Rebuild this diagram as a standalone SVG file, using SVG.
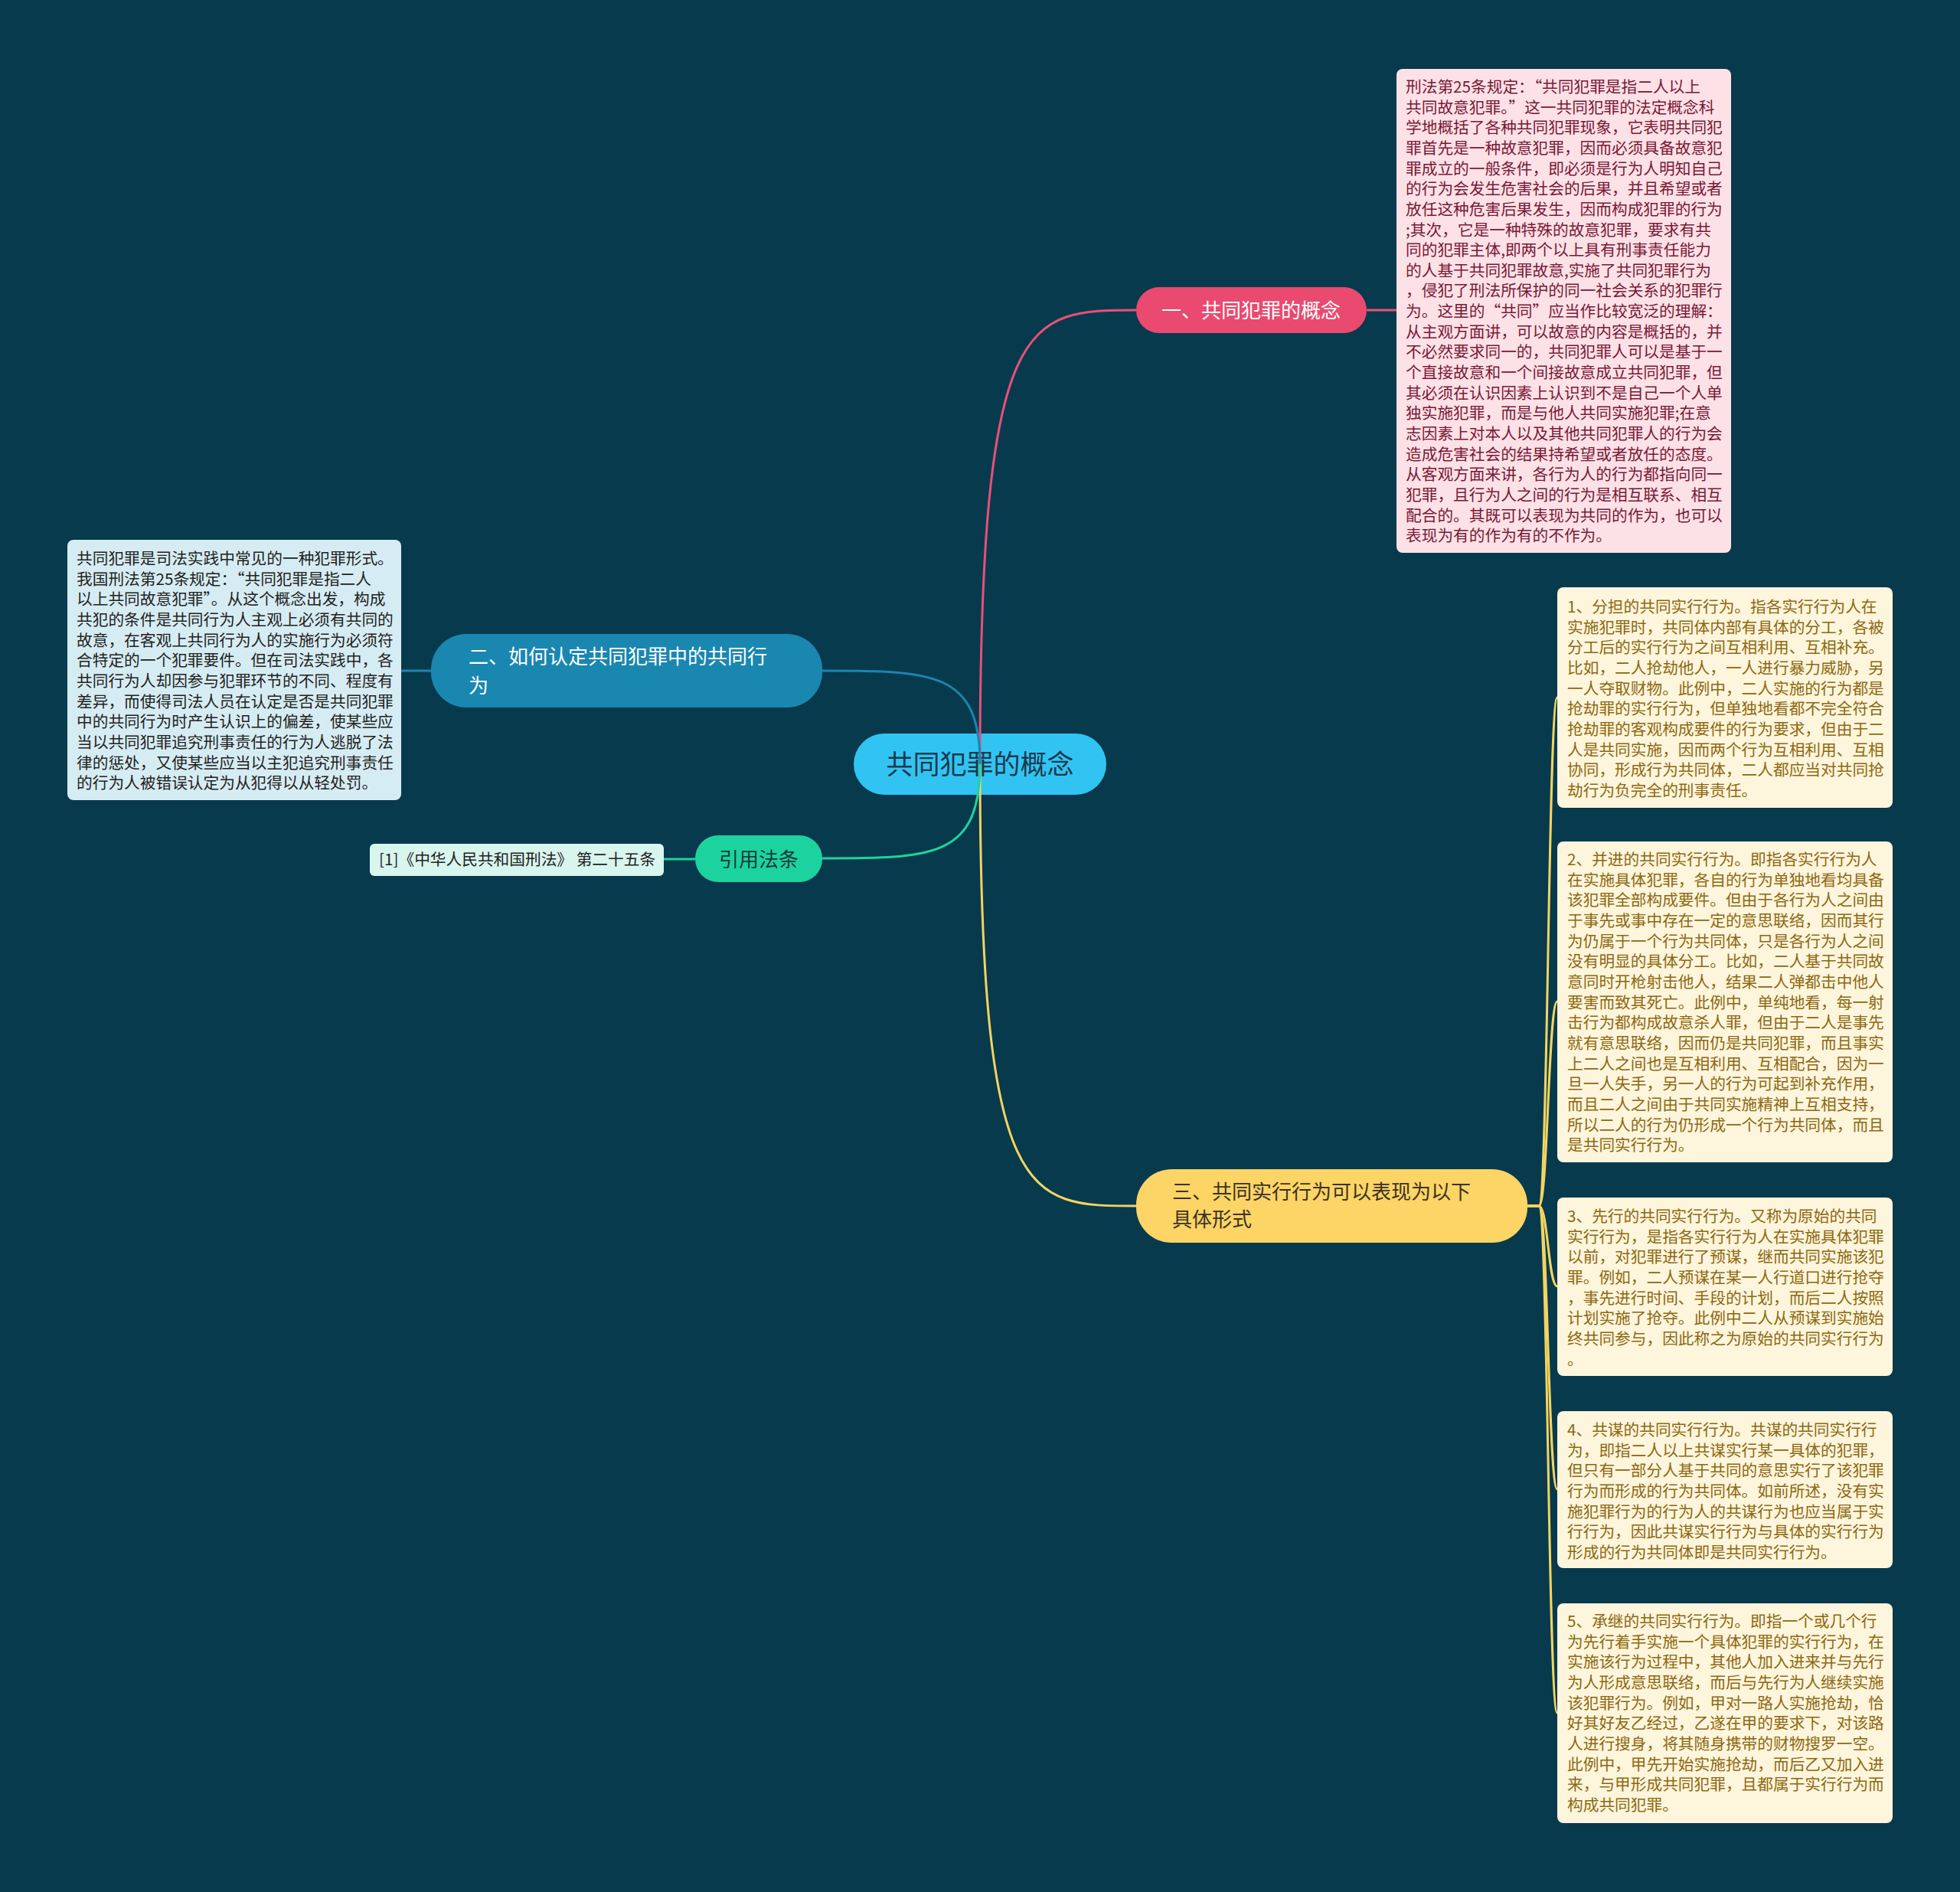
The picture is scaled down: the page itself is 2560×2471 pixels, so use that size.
<svg xmlns="http://www.w3.org/2000/svg" width="2560" height="2471" viewBox="0 0 2560 2471">
<style>
text{font-family:"Noto Sans CJK SC","Noto Sans",sans-serif;}
.conn{fill:none;stroke-width:3;}
.box{font-size:20.7px;}
.pink text{fill:#7a1834;}
.yel text{fill:#8d6810;}
.br{font-size:26px;}
</style>
<rect width="2560" height="2471" fill="#083a4d"/>
<g id="center">
<rect x="1115" y="958" width="330" height="80" rx="40" fill="#31c4f3"/>
<text x="1280" y="1011" font-size="35" text-anchor="middle" fill="#1b3a4c">共同犯罪的概念</text>
</g>
<g id="connectors">
<path class="conn" stroke="#e8507a" d="M1280 998 C1280 405 1341 405 1484 405"/>
<path class="conn" stroke="#f3d460" d="M1280 998 C1280 1575 1341 1575 1484 1575"/>
<path class="conn" stroke="#1a86b0" d="M1280 998 C1280 876 1218 876 1074 876"/>
<path class="conn" stroke="#1dd3a0" d="M1280 998 C1280 1121 1218 1121 1074 1121"/>
<path class="conn" stroke="#e8507a" d="M1785 405 H1824"/>
<path class="conn" stroke="#1a86b0" d="M563 876 H524"/>
<path class="conn" stroke="#1dd3a0" d="M908 1122 H867"/>
<path class="conn" stroke="#f3d460" d="M1995 1575 H2010 C2022 1575 2022 911 2034 911"/>
<path class="conn" stroke="#f3d460" d="M1995 1575 H2010 C2022 1575 2022 1308 2034 1308"/>
<path class="conn" stroke="#f3d460" d="M1995 1575 H2010 C2022 1575 2022 1680 2034 1680"/>
<path class="conn" stroke="#f3d460" d="M1995 1575 H2010 C2022 1575 2022 1945 2034 1945"/>
<path class="conn" stroke="#f3d460" d="M1995 1575 H2010 C2022 1575 2022 2237 2034 2237"/>
</g>
<g id="branch1">
<rect x="1484" y="375" width="301" height="60" rx="30" fill="#ea4a6f"/>
<text class="br" x="1634" y="415" text-anchor="middle" fill="#ffffff">一、共同犯罪的概念</text>
</g>
<g id="branch2">
<rect x="563" y="828" width="511" height="96" rx="46" fill="#1a87b1"/>
<text class="br" fill="#ffffff"><tspan x="612" y="867">二、如何认定共同犯罪中的共同行</tspan><tspan x="612" y="905">为</tspan></text>
</g>
<g id="branch_cite">
<rect x="908" y="1091" width="166" height="61" rx="30" fill="#1cd39f"/>
<text class="br" x="991" y="1132" text-anchor="middle" fill="#143a3a">引用法条</text>
</g>
<g id="branch3">
<rect x="1484" y="1527" width="511" height="96" rx="46" fill="#fdd466"/>
<text class="br" fill="#3a3320"><tspan x="1531" y="1566">三、共同实行行为可以表现为以下</tspan><tspan x="1531" y="1602">具体形式</tspan></text>
</g>
<g id="note1" class="pink">
<rect x="1824" y="90" width="437" height="632" rx="8" fill="#fce1e7"/>
<text class="box" x="1836" y="121">
<tspan x="1836" dy="0">刑法第25条规定：“共同犯罪是指二人以上</tspan>
<tspan x="1836" dy="26.65">共同故意犯罪。”这一共同犯罪的法定概念科</tspan>
<tspan x="1836" dy="26.65">学地概括了各种共同犯罪现象，它表明共同犯</tspan>
<tspan x="1836" dy="26.65">罪首先是一种故意犯罪，因而必须具备故意犯</tspan>
<tspan x="1836" dy="26.65">罪成立的一般条件，即必须是行为人明知自己</tspan>
<tspan x="1836" dy="26.65">的行为会发生危害社会的后果，并且希望或者</tspan>
<tspan x="1836" dy="26.65">放任这种危害后果发生，因而构成犯罪的行为</tspan>
<tspan x="1836" dy="26.65">;其次，它是一种特殊的故意犯罪，要求有共</tspan>
<tspan x="1836" dy="26.65">同的犯罪主体,即两个以上具有刑事责任能力</tspan>
<tspan x="1836" dy="26.65">的人基于共同犯罪故意,实施了共同犯罪行为</tspan>
<tspan x="1836" dy="26.65">，侵犯了刑法所保护的同一社会关系的犯罪行</tspan>
<tspan x="1836" dy="26.65">为。这里的“共同”应当作比较宽泛的理解：</tspan>
<tspan x="1836" dy="26.65">从主观方面讲，可以故意的内容是概括的，并</tspan>
<tspan x="1836" dy="26.65">不必然要求同一的，共同犯罪人可以是基于一</tspan>
<tspan x="1836" dy="26.65">个直接故意和一个间接故意成立共同犯罪，但</tspan>
<tspan x="1836" dy="26.65">其必须在认识因素上认识到不是自己一个人单</tspan>
<tspan x="1836" dy="26.65">独实施犯罪，而是与他人共同实施犯罪;在意</tspan>
<tspan x="1836" dy="26.65">志因素上对本人以及其他共同犯罪人的行为会</tspan>
<tspan x="1836" dy="26.65">造成危害社会的结果持希望或者放任的态度。</tspan>
<tspan x="1836" dy="26.65">从客观方面来讲，各行为人的行为都指向同一</tspan>
<tspan x="1836" dy="26.65">犯罪，且行为人之间的行为是相互联系、相互</tspan>
<tspan x="1836" dy="26.65">配合的。其既可以表现为共同的作为，也可以</tspan>
<tspan x="1836" dy="26.65">表现为有的作为有的不作为。</tspan>
</text>
</g>
<g id="note2">
<rect x="88" y="705" width="436" height="340" rx="8" fill="#d6ecf3"/>
<text class="box" x="100" y="737" fill="#222222">
<tspan x="100" dy="0">共同犯罪是司法实践中常见的一种犯罪形式。</tspan>
<tspan x="100" dy="26.67">我国刑法第25条规定：“共同犯罪是指二人</tspan>
<tspan x="100" dy="26.67">以上共同故意犯罪”。从这个概念出发，构成</tspan>
<tspan x="100" dy="26.67">共犯的条件是共同行为人主观上必须有共同的</tspan>
<tspan x="100" dy="26.67">故意，在客观上共同行为人的实施行为必须符</tspan>
<tspan x="100" dy="26.67">合特定的一个犯罪要件。但在司法实践中，各</tspan>
<tspan x="100" dy="26.67">共同行为人却因参与犯罪环节的不同、程度有</tspan>
<tspan x="100" dy="26.67">差异，而使得司法人员在认定是否是共同犯罪</tspan>
<tspan x="100" dy="26.67">中的共同行为时产生认识上的偏差，使某些应</tspan>
<tspan x="100" dy="26.67">当以共同犯罪追究刑事责任的行为人逃脱了法</tspan>
<tspan x="100" dy="26.67">律的惩处，又使某些应当以主犯追究刑事责任</tspan>
<tspan x="100" dy="26.67">的行为人被错误认定为从犯得以从轻处罚。</tspan>
</text>
</g>
<g id="cite">
<rect x="483" y="1102" width="384" height="42" rx="6" fill="#d8f5ee"/>
<text class="box" x="495" y="1130" fill="#222222">[1]《中华人民共和国刑法》 第二十五条</text>
</g>
<g id="item1" class="yel">
<rect x="2034" y="767" width="438" height="288" rx="8" fill="#fdf5dc"/>
<text class="box" x="2047" y="800">
<tspan x="2047" dy="0">1、分担的共同实行行为。指各实行行为人在</tspan>
<tspan x="2047" dy="26.67">实施犯罪时，共同体内部有具体的分工，各被</tspan>
<tspan x="2047" dy="26.67">分工后的实行行为之间互相利用、互相补充。</tspan>
<tspan x="2047" dy="26.67">比如，二人抢劫他人，一人进行暴力威胁，另</tspan>
<tspan x="2047" dy="26.67">一人夺取财物。此例中，二人实施的行为都是</tspan>
<tspan x="2047" dy="26.67">抢劫罪的实行行为，但单独地看都不完全符合</tspan>
<tspan x="2047" dy="26.67">抢劫罪的客观构成要件的行为要求，但由于二</tspan>
<tspan x="2047" dy="26.67">人是共同实施，因而两个行为互相利用、互相</tspan>
<tspan x="2047" dy="26.67">协同，形成行为共同体，二人都应当对共同抢</tspan>
<tspan x="2047" dy="26.67">劫行为负完全的刑事责任。</tspan>
</text>
</g>
<g id="item2" class="yel">
<rect x="2034" y="1099" width="438" height="419" rx="8" fill="#fdf5dc"/>
<text class="box" x="2047" y="1130">
<tspan x="2047" dy="0">2、并进的共同实行行为。即指各实行行为人</tspan>
<tspan x="2047" dy="26.67">在实施具体犯罪，各自的行为单独地看均具备</tspan>
<tspan x="2047" dy="26.67">该犯罪全部构成要件。但由于各行为人之间由</tspan>
<tspan x="2047" dy="26.67">于事先或事中存在一定的意思联络，因而其行</tspan>
<tspan x="2047" dy="26.67">为仍属于一个行为共同体，只是各行为人之间</tspan>
<tspan x="2047" dy="26.67">没有明显的具体分工。比如，二人基于共同故</tspan>
<tspan x="2047" dy="26.67">意同时开枪射击他人，结果二人弹都击中他人</tspan>
<tspan x="2047" dy="26.67">要害而致其死亡。此例中，单纯地看，每一射</tspan>
<tspan x="2047" dy="26.67">击行为都构成故意杀人罪，但由于二人是事先</tspan>
<tspan x="2047" dy="26.67">就有意思联络，因而仍是共同犯罪，而且事实</tspan>
<tspan x="2047" dy="26.67">上二人之间也是互相利用、互相配合，因为一</tspan>
<tspan x="2047" dy="26.67">旦一人失手，另一人的行为可起到补充作用，</tspan>
<tspan x="2047" dy="26.67">而且二人之间由于共同实施精神上互相支持，</tspan>
<tspan x="2047" dy="26.67">所以二人的行为仍形成一个行为共同体，而且</tspan>
<tspan x="2047" dy="26.67">是共同实行行为。</tspan>
</text>
</g>
<g id="item3" class="yel">
<rect x="2034" y="1564" width="438" height="233" rx="8" fill="#fdf5dc"/>
<text class="box" x="2047" y="1596">
<tspan x="2047" dy="0">3、先行的共同实行行为。又称为原始的共同</tspan>
<tspan x="2047" dy="26.67">实行行为，是指各实行行为人在实施具体犯罪</tspan>
<tspan x="2047" dy="26.67">以前，对犯罪进行了预谋，继而共同实施该犯</tspan>
<tspan x="2047" dy="26.67">罪。例如，二人预谋在某一人行道口进行抢夺</tspan>
<tspan x="2047" dy="26.67">，事先进行时间、手段的计划，而后二人按照</tspan>
<tspan x="2047" dy="26.67">计划实施了抢夺。此例中二人从预谋到实施始</tspan>
<tspan x="2047" dy="26.67">终共同参与，因此称之为原始的共同实行行为</tspan>
<tspan x="2047" dy="26.67">。</tspan>
</text>
</g>
<g id="item4" class="yel">
<rect x="2034" y="1843" width="438" height="205" rx="8" fill="#fdf5dc"/>
<text class="box" x="2047" y="1875">
<tspan x="2047" dy="0">4、共谋的共同实行行为。共谋的共同实行行</tspan>
<tspan x="2047" dy="26.67">为，即指二人以上共谋实行某一具体的犯罪，</tspan>
<tspan x="2047" dy="26.67">但只有一部分人基于共同的意思实行了该犯罪</tspan>
<tspan x="2047" dy="26.67">行为而形成的行为共同体。如前所述，没有实</tspan>
<tspan x="2047" dy="26.67">施犯罪行为的行为人的共谋行为也应当属于实</tspan>
<tspan x="2047" dy="26.67">行行为，因此共谋实行行为与具体的实行行为</tspan>
<tspan x="2047" dy="26.67">形成的行为共同体即是共同实行行为。</tspan>
</text>
</g>
<g id="item5" class="yel">
<rect x="2034" y="2094" width="438" height="287" rx="8" fill="#fdf5dc"/>
<text class="box" x="2047" y="2125">
<tspan x="2047" dy="0">5、承继的共同实行行为。即指一个或几个行</tspan>
<tspan x="2047" dy="26.67">为先行着手实施一个具体犯罪的实行行为，在</tspan>
<tspan x="2047" dy="26.67">实施该行为过程中，其他人加入进来并与先行</tspan>
<tspan x="2047" dy="26.67">为人形成意思联络，而后与先行为人继续实施</tspan>
<tspan x="2047" dy="26.67">该犯罪行为。例如，甲对一路人实施抢劫，恰</tspan>
<tspan x="2047" dy="26.67">好其好友乙经过，乙遂在甲的要求下，对该路</tspan>
<tspan x="2047" dy="26.67">人进行搜身，将其随身携带的财物搜罗一空。</tspan>
<tspan x="2047" dy="26.67">此例中，甲先开始实施抢劫，而后乙又加入进</tspan>
<tspan x="2047" dy="26.67">来，与甲形成共同犯罪，且都属于实行行为而</tspan>
<tspan x="2047" dy="26.67">构成共同犯罪。</tspan>
</text>
</g>
</svg>
